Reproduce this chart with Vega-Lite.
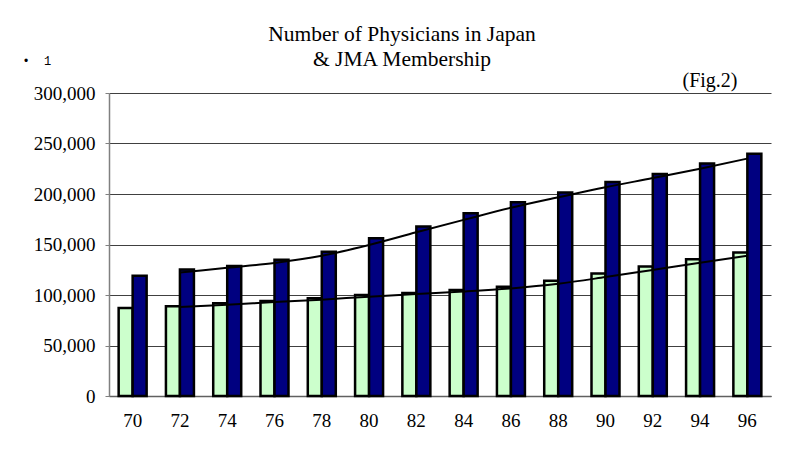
{
  "$schema": "https://vega.github.io/schema/vega-lite/v6.json",
  "width": 662,
  "height": 303,
  "autosize": {"type": "none"},
  "padding": {"left": 109, "top": 93, "right": 18, "bottom": 55},
  "background": "white",
  "config": {
    "view": {"stroke": null},
    "font": "Liberation Serif",
    "title": {"font": "Liberation Serif"}
  },
  "title": {
    "text": ["Number of Physicians in Japan", "& JMA Membership"],
    "font": "Liberation Serif",
    "fontSize": 21.5,
    "fontWeight": "normal",
    "color": "#000000",
    "anchor": "middle",
    "dx": -38,
    "lineHeight": 25,
    "offset": -16
  },
  "datasets": {
    "bars": [
      {"year": "70", "series": "JMA Members", "value": 87200},
      {"year": "72", "series": "JMA Members", "value": 88800},
      {"year": "74", "series": "JMA Members", "value": 91800},
      {"year": "76", "series": "JMA Members", "value": 94100},
      {"year": "78", "series": "JMA Members", "value": 96700},
      {"year": "80", "series": "JMA Members", "value": 100000},
      {"year": "82", "series": "JMA Members", "value": 102000},
      {"year": "84", "series": "JMA Members", "value": 104900},
      {"year": "86", "series": "JMA Members", "value": 108200},
      {"year": "88", "series": "JMA Members", "value": 114100},
      {"year": "90", "series": "JMA Members", "value": 121400},
      {"year": "92", "series": "JMA Members", "value": 128300},
      {"year": "94", "series": "JMA Members", "value": 135500},
      {"year": "96", "series": "JMA Members", "value": 142100},
      {"year": "70", "series": "Physicians", "value": 119000},
      {"year": "72", "series": "Physicians", "value": 125300},
      {"year": "74", "series": "Physicians", "value": 128600},
      {"year": "76", "series": "Physicians", "value": 134900},
      {"year": "78", "series": "Physicians", "value": 142800},
      {"year": "80", "series": "Physicians", "value": 156300},
      {"year": "82", "series": "Physicians", "value": 167800},
      {"year": "84", "series": "Physicians", "value": 180900},
      {"year": "86", "series": "Physicians", "value": 191800},
      {"year": "88", "series": "Physicians", "value": 201600},
      {"year": "90", "series": "Physicians", "value": 211800},
      {"year": "92", "series": "Physicians", "value": 219700},
      {"year": "94", "series": "Physicians", "value": 230300},
      {"year": "96", "series": "Physicians", "value": 239800}
    ],
    "trend": [
      {"year": "72", "series": "JMA Members", "value": 88000},
      {"year": "74", "series": "JMA Members", "value": 90300},
      {"year": "76", "series": "JMA Members", "value": 92950},
      {"year": "78", "series": "JMA Members", "value": 95400},
      {"year": "80", "series": "JMA Members", "value": 98350},
      {"year": "82", "series": "JMA Members", "value": 101000},
      {"year": "84", "series": "JMA Members", "value": 103450},
      {"year": "86", "series": "JMA Members", "value": 106550},
      {"year": "88", "series": "JMA Members", "value": 111150},
      {"year": "90", "series": "JMA Members", "value": 117750},
      {"year": "92", "series": "JMA Members", "value": 124850},
      {"year": "94", "series": "JMA Members", "value": 131900},
      {"year": "96", "series": "JMA Members", "value": 138800},
      {"year": "72", "series": "Physicians", "value": 122200},
      {"year": "74", "series": "Physicians", "value": 127000},
      {"year": "76", "series": "Physicians", "value": 131750},
      {"year": "78", "series": "Physicians", "value": 138850},
      {"year": "80", "series": "Physicians", "value": 149550},
      {"year": "82", "series": "Physicians", "value": 162050},
      {"year": "84", "series": "Physicians", "value": 174350},
      {"year": "86", "series": "Physicians", "value": 186350},
      {"year": "88", "series": "Physicians", "value": 196700},
      {"year": "90", "series": "Physicians", "value": 206700},
      {"year": "92", "series": "Physicians", "value": 215750},
      {"year": "94", "series": "Physicians", "value": 225000},
      {"year": "96", "series": "Physicians", "value": 235050}
    ]
  },
  "encoding": {
    "x": {
      "field": "year",
      "type": "nominal",
      "sort": null,
      "scale": {"paddingInner": 0.408, "paddingOuter": 0.204},
      "axis": {
        "title": "(Fig.2)",
        "titleFont": "Liberation Serif",
        "titleFontSize": 20,
        "titleFontWeight": "normal",
        "titleColor": "#000000",
        "titleAlign": "right",
        "titleAnchor": null,
        "titleBaseline": "alphabetic",
        "titleX": 628,
        "titleY": -310,
        "labelAngle": 0,
        "labelFont": "Liberation Serif",
        "labelFontSize": 19,
        "labelColor": "#000000",
        "labelPadding": 20,
        "bandPosition": 0,
        "tickSize": -5,
        "tickColor": "#808080",
        "domainColor": "#606060",
        "domainWidth": 1.5,
        "grid": false
      }
    },
    "y": {
      "field": "value",
      "type": "quantitative",
      "scale": {"domain": [0, 300000], "nice": false},
      "axis": {
        "values": [0, 50000, 100000, 150000, 200000, 250000, 300000],
        "format": ",d",
        "title": "•\u00a0\u00a01",
        "titleFont": "Liberation Mono",
        "titleFontSize": 12,
        "titleFontWeight": "normal",
        "titleColor": "#000000",
        "titleAngle": 0,
        "titleAlign": "left",
        "titleBaseline": "middle",
        "titleAnchor": null,
        "titleX": -87,
        "titleY": -33,
        "labelFont": "Liberation Serif",
        "labelFontSize": 19,
        "labelColor": "#000000",
        "labelPadding": 10,
        "tickSize": 4,
        "tickColor": "#808080",
        "domainColor": "#808080",
        "domainWidth": 1.5,
        "grid": true,
        "gridColor": "#404040",
        "gridWidth": 1
      }
    }
  },
  "layer": [
    {
      "data": {"name": "bars"},
      "mark": {"type": "bar", "stroke": "#000000", "strokeWidth": 2.5},
      "encoding": {
        "xOffset": {"field": "series", "type": "nominal", "sort": ["JMA Members", "Physicians"]},
        "fill": {
          "field": "series",
          "type": "nominal",
          "scale": {"domain": ["JMA Members", "Physicians"], "range": ["#CCFFCC", "#000080"]},
          "legend": null
        }
      }
    },
    {
      "data": {"name": "trend"},
      "mark": {"type": "line", "color": "#000000", "strokeWidth": 2, "interpolate": "monotone"},
      "encoding": {
        "detail": {"field": "series", "type": "nominal"}
      }
    }
  ]
}
